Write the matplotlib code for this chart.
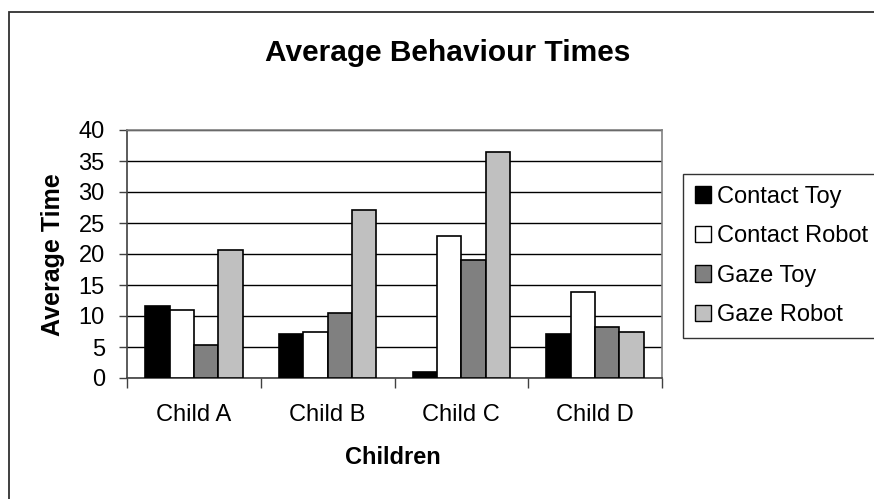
import matplotlib
matplotlib.use("Agg")
import matplotlib.pyplot as plt
from matplotlib.patches import Rectangle, Patch
import numpy as np

categories = ["Child A", "Child B", "Child C", "Child D"]
series_names = ["Contact Toy", "Contact Robot", "Gaze Toy", "Gaze Robot"]
contact_toy = [11.6, 7.1, 1.0, 7.1]
contact_robot = [10.9, 7.5, 22.9, 13.9]
gaze_toy = [5.4, 10.5, 19.0, 8.3]
gaze_robot = [20.6, 27.1, 36.5, 7.5]
yticks = [0, 5, 10, 15, 20, 25, 30, 35, 40]

colors = ["#000000", "#FFFFFF", "#808080", "#C0C0C0"]
plt.rcParams['font.family'] = ['Liberation Sans', 'DejaVu Sans']

W, H = 874, 499
fig = plt.figure(figsize=(W / 100, H / 100), dpi=100)

# outer chart border (top & left visible)
fig.patches.append(Rectangle((9 / W, -0.1), 1.2, 1 - 12 / H + 0.1, transform=fig.transFigure,
                             fill=False, edgecolor="#303030", linewidth=1.3))

ax = fig.add_axes([127 / W, 1 - 378 / H, (662 - 127) / W, (378 - 130) / H])

x = np.arange(len(categories))
w = 0.182
data = [contact_toy, contact_robot, gaze_toy, gaze_robot]
for k, (vals, c) in enumerate(zip(data, colors)):
    ax.bar(x + (k - 1.5) * w, vals, width=w, color=c, edgecolor="black",
           linewidth=1.2, zorder=3, label=series_names[k])

ax.set_xlim(-0.5, 3.5)
ax.set_ylim(0, 40)
ax.set_yticks(yticks)
ax.yaxis.grid(True, color="black", linewidth=1.0, zorder=0)
ax.set_axisbelow(True)

ax.set_xticks(x)
ax.set_xticklabels(categories, fontsize=17)
ax.set_xticks(np.arange(-0.5, 4, 1), minor=True)
ax.tick_params(axis="x", which="major", length=0, pad=19)
ax.tick_params(axis="x", which="minor", length=7, width=1, color="#404040", direction="out")
ax.tick_params(axis="y", length=6, width=1, color="#404040", labelsize=17, pad=10)

for s in ["top", "right"]:
    ax.spines[s].set_color("#808080")
    ax.spines[s].set_linewidth(1.2)
for s in ["left", "bottom"]:
    ax.spines[s].set_color("#404040")
    ax.spines[s].set_linewidth(1.2)

fig.text(447.5 / W, 1 - 53 / H, "Average Behaviour Times", ha="center", va="center",
         fontsize=21.5, fontweight="bold")
fig.text(53 / W, 1 - 255 / H, "Average Time", ha="center", va="center", rotation=90,
         fontsize=18, fontweight="bold")
fig.text(393 / W, 1 - 458 / H, "Children", ha="center", va="center",
         fontsize=17, fontweight="bold")

handles = [Patch(facecolor=c, edgecolor="black", linewidth=1.0) for c in colors]
leg = fig.legend(handles, series_names, loc="upper left",
                 bbox_to_anchor=(683 / W, 1 - 174 / H), fontsize=17,
                 frameon=True, fancybox=False, shadow=False,
                 handlelength=0.68, handleheight=0.68, handletextpad=0.25,
                 labelspacing=0.74, borderpad=0.5, borderaxespad=0)
leg.get_frame().set_edgecolor("black")
leg.get_frame().set_linewidth(1.0)

fig.savefig("out.png", dpi=100)
